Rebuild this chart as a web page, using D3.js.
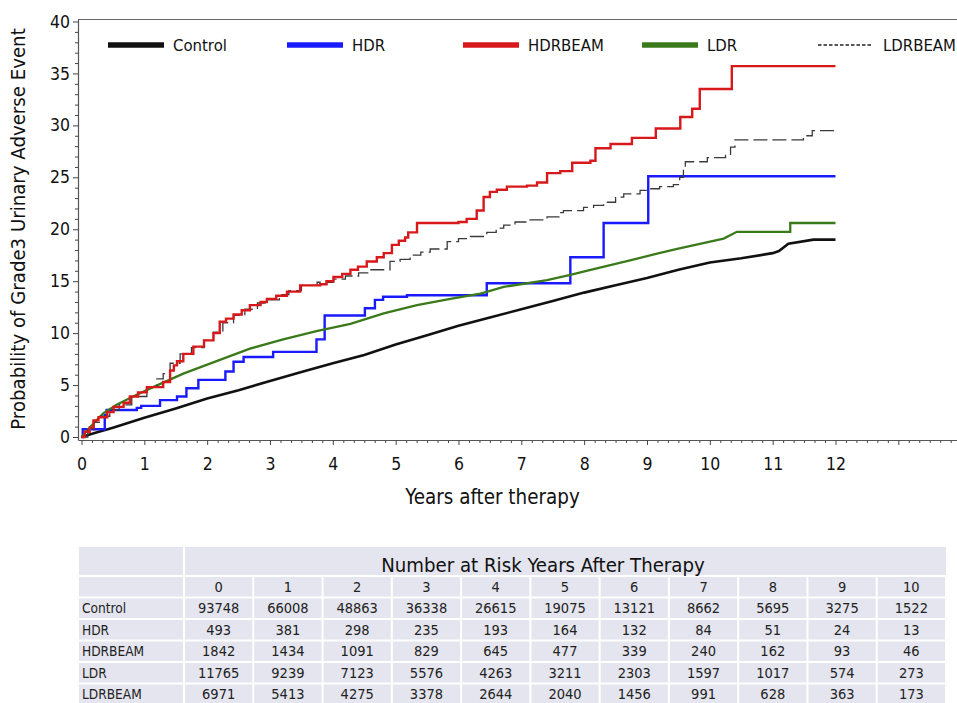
<!DOCTYPE html>
<html>
<head>
<meta charset="utf-8">
<script src="https://cdn.jsdelivr.net/npm/d3@7"></script>
<style>
  html, body { margin: 0; padding: 0; background: #fff; }
  svg { display: block; font-family: "DejaVu Sans Condensed", "DejaVu Sans", sans-serif; }
</style>
</head>
<body>
<svg id="chart" width="957" height="703"></svg>
<script>
// ---------------- DATA ----------------
const seriesNames = ["Control", "HDR", "HDRBEAM", "LDR", "LDRBEAM"];

const controlData = [[0,0],[0.25,0.45],[0.5,0.9],[1,1.85],[1.5,2.75],[2,3.7],[2.5,4.5],[3,5.4],[3.5,6.25],[4,7.1],[4.5,7.9],[5,8.9],[5.5,9.8],[6,10.7],[6.5,11.5],[7,12.3],[7.5,13.1],[8,13.9],[8.5,14.6],[9,15.3],[9.5,16.1],[10,16.8],[10.5,17.2],[11,17.7],[11.1,17.9],[11.25,18.6],[11.65,19.0],[12,19.0]];

const hdrData = [[0,0],[0.02,0.75],[0.37,2.1],[0.4,2.6],[0.88,2.8],[0.95,3.0],[1.25,3.55],[1.52,3.9],[1.67,4.7],[1.86,5.5],[2.29,6.3],[2.42,7.25],[2.58,7.7],[3.05,8.2],[3.74,9.4],[3.87,11.7],[4.51,12.4],[4.67,13.2],[4.8,13.5],[5.18,13.65],[6.45,14.8],[7.78,17.3],[8.31,20.6],[9.02,25.1],[12,25.1]];

const hdrbeamData = [[0,0],[0.05,0.5],[0.13,0.9],[0.19,1.6],[0.27,1.9],[0.41,2.4],[0.51,2.9],[0.67,3.3],[0.77,3.9],[0.9,4.3],[1.04,4.8],[1.3,5.3],[1.41,6.4],[1.47,6.9],[1.52,7.3],[1.62,8.0],[1.78,8.7],[1.95,9.3],[2.1,10.0],[2.2,11.1],[2.3,11.4],[2.42,11.8],[2.55,12.2],[2.68,12.7],[2.85,13.0],[2.95,13.3],[3.1,13.6],[3.27,14.0],[3.48,14.6],[3.8,14.7],[3.9,15.0],[4.01,15.4],[4.15,15.7],[4.28,16.1],[4.4,16.4],[4.54,16.9],[4.7,17.3],[4.81,17.7],[4.94,18.5],[5.05,18.9],[5.15,19.2],[5.2,19.7],[5.34,20.6],[6.0,20.7],[6.13,21.0],[6.29,21.8],[6.4,23.1],[6.5,23.6],[6.61,23.8],[6.77,24.1],[7.09,24.2],[7.25,24.5],[7.41,25.4],[7.62,25.6],[7.81,26.4],[8.1,26.6],[8.18,27.8],[8.42,28.2],[8.76,28.8],[9.14,29.7],[9.53,30.8],[9.72,31.6],[9.84,33.5],[10.35,35.7],[12,35.7]];

const ldrData = [[0,0],[0.1,0.7],[0.19,1.3],[0.35,2.3],[0.56,3.1],[0.82,3.9],[1.14,4.8],[1.62,6.1],[2.15,7.3],[2.68,8.5],[3.21,9.4],[3.74,10.2],[4.28,10.9],[4.81,11.9],[5.34,12.7],[5.87,13.3],[6.35,13.8],[6.72,14.45],[7.41,15.1],[7.78,15.6],[8.07,16.05],[8.73,17.0],[9.16,17.65],[9.48,18.1],[10.22,19.1],[10.43,19.75],[11.28,19.75],[11.28,20.6],[12,20.6]];

const ldrbeamData = [[0,0],[0.1,0.7],[0.2,1.4],[0.3,2.0],[0.45,2.6],[0.6,3.1],[0.8,3.9],[1.04,4.8],[1.2,5.6],[1.3,6.1],[1.41,7.1],[1.57,8.0],[1.75,8.6],[1.95,9.3],[2.1,10.1],[2.25,11.0],[2.42,11.7],[2.6,12.3],[2.8,12.9],[2.95,13.2],[3.15,13.7],[3.3,14.1],[3.5,14.6],[3.75,14.9],[4.01,15.2],[4.2,15.5],[4.41,15.8],[4.59,16.1],[4.91,16.9],[5.07,17.1],[5.23,17.5],[5.4,17.8],[5.55,18.1],[5.82,18.8],[6.0,19.1],[6.19,19.3],[6.45,19.7],[6.6,20.1],[6.72,20.4],[6.9,20.7],[7.09,20.9],[7.41,21.2],[7.6,21.6],[7.67,21.8],[7.99,22.1],[8.15,22.3],[8.31,22.6],[8.5,23.1],[8.63,23.4],[8.89,23.75],[9.0,23.9],[9.2,24.1],[9.42,24.3],[9.52,25.0],[9.58,25.7],[9.61,26.5],[9.96,26.9],[10.25,27.1],[10.33,27.9],[10.4,28.6],[11.39,28.6],[11.49,29.0],[11.63,29.5],[12,29.5]];

const xTickLabels = [0,1,2,3,4,5,6,7,8,9,10,11,12];
const yTickLabels = [0,5,10,15,20,25,30,35,40];

const yAxisTitle = "Probability of Grade3 Urinary Adverse Event";
const xAxisTitle = "Years after therapy";

const tableTitle = "Number at Risk Years After Therapy";
const riskYears = [0,1,2,3,4,5,6,7,8,9,10];
const riskControl = [93748,66008,48863,36338,26615,19075,13121,8662,5695,3275,1522];
const riskHDR = [493,381,298,235,193,164,132,84,51,24,13];
const riskHDRBEAM = [1842,1434,1091,829,645,477,339,240,162,93,46];
const riskLDR = [11765,9239,7123,5576,4263,3211,2303,1597,1017,574,273];
const riskLDRBEAM = [6971,5413,4275,3378,2644,2040,1456,991,628,363,173];

// ---------------- CHART ----------------
const svg = d3.select("#chart");

const x = d3.scaleLinear().domain([-0.0557, 13.934]).range([78, 957]);
const y = d3.scaleLinear().domain([-0.288, 40.24]).range([440, 19]);

const styles = {
  Control: { color: "#111111", width: 2.6, dash: null, curve: d3.curveLinear, data: controlData },
  HDR:     { color: "#1a1aff", width: 2.4, dash: null, curve: d3.curveStepAfter, data: hdrData },
  HDRBEAM: { color: "#d7191c", width: 2.4, dash: null, curve: d3.curveStepAfter, data: hdrbeamData },
  LDR:     { color: "#3b7a1a", width: 2.3, dash: null, curve: d3.curveLinear, data: ldrData },
  LDRBEAM: { color: "#3a3a3a", width: 1.3, dash: "14,5", curve: d3.curveStepAfter, data: ldrbeamData }
};

// frame top line
svg.append("line").attr("x1", 78).attr("x2", 957).attr("y1", 19.5).attr("y2", 19.5)
  .attr("stroke", "#666").attr("stroke-width", 1.2);

// x axis
const xMinor = d3.range(0, 84).map(i => i / 6).filter(v => Math.abs(v - Math.round(v)) > 1e-6 && v < 13.93);
svg.append("g").attr("transform", "translate(0,440)")
  .call(d3.axisBottom(x).tickValues(xMinor).tickSize(3).tickFormat("").tickSizeOuter(0))
  .call(g => g.select(".domain").remove())
  .call(g => g.selectAll(".tick line").attr("stroke", "#444"));
const xMajor = d3.range(0, 14);
svg.append("g").attr("transform", "translate(0,440)")
  .call(d3.axisBottom(x).tickValues(xMajor).tickSize(5).tickPadding(13)
    .tickFormat(d => xTickLabels.includes(d) ? d : "").tickSizeOuter(0))
  .call(g => g.select(".domain").attr("stroke", "#555").attr("stroke-width", 1.2))
  .call(g => g.selectAll(".tick line").attr("stroke", "#444"))
  .call(g => g.selectAll("text").attr("font-size", 17.5).attr("fill", "#111")
    .attr("font-family", "'DejaVu Sans Condensed', sans-serif"));

// y axis
const yMinor = d3.range(0, 41).filter(v => v % 5 !== 0);
svg.append("g").attr("transform", "translate(78,0)")
  .call(d3.axisLeft(y).tickValues(yMinor).tickSize(3).tickFormat("").tickSizeOuter(0))
  .call(g => g.select(".domain").remove())
  .call(g => g.selectAll(".tick line").attr("stroke", "#444"));
svg.append("g").attr("transform", "translate(78,0)")
  .call(d3.axisLeft(y).tickValues(yTickLabels).tickSize(5).tickPadding(3).tickSizeOuter(0))
  .call(g => g.select(".domain").attr("stroke", "#555").attr("stroke-width", 1.2))
  .call(g => g.selectAll(".tick line").attr("stroke", "#444"))
  .call(g => g.selectAll("text").attr("font-size", 17.5).attr("fill", "#111")
    .attr("font-family", "'DejaVu Sans Condensed', sans-serif"));

// axis titles
svg.append("text").attr("transform", "translate(18,229) rotate(-90)")
  .attr("text-anchor", "middle").attr("dy", "0.35em")
  .attr("font-size", 20.2).attr("fill", "#111").text(yAxisTitle);
svg.append("text").attr("x", 492.5).attr("y", 504)
  .attr("text-anchor", "middle")
  .attr("font-size", 20.4).attr("fill", "#111").text(xAxisTitle);

// curves
const drawOrder = ["Control", "HDR", "LDR", "LDRBEAM", "HDRBEAM"];
drawOrder.forEach(name => {
  const s = styles[name];
  const line = d3.line().x(d => x(d[0])).y(d => y(d[1])).curve(s.curve);
  svg.append("path").datum(s.data)
    .attr("d", line)
    .attr("fill", "none")
    .attr("stroke", s.color)
    .attr("stroke-width", s.width)
    .attr("stroke-dasharray", s.dash)
    .attr("stroke-linejoin", "miter");
});

// legend
const legendPos = { Control: 108, HDR: 287, HDRBEAM: 463, LDR: 642, LDRBEAM: 818 };
seriesNames.forEach(name => {
  const s = styles[name];
  const lx = legendPos[name];
  const g = svg.append("g");
  if (name === "LDRBEAM") {
    g.append("line").attr("x1", lx).attr("x2", lx + 55).attr("y1", 45).attr("y2", 45)
      .attr("stroke", "#222").attr("stroke-width", 1.4).attr("stroke-dasharray", "3.5,2");
  } else {
    g.append("line").attr("x1", lx).attr("x2", lx + 56).attr("y1", 45).attr("y2", 45)
      .attr("stroke", s.color).attr("stroke-width", 5.5);
  }
  g.append("text").attr("x", lx + 65).attr("y", 45).attr("dy", "0.36em")
    .attr("font-size", 16.6).attr("fill", "#111").text(name);
});

// ---------------- TABLE ----------------
const tbl = svg.append("g");
const tLeft = 79, labelW = 105, tRight = 946;
const colX = d3.scaleBand().domain(riskYears).range([tLeft + labelW, tRight]);
const cellFill = "#e4e5ee";
const rowTops = [547, 576, 597.5, 619, 640.5, 662, 683.5];
const rowH = [29, 21.5, 21.5, 21.5, 21.5, 21.5, 21.5];
const gap = 1;

// header row 1
tbl.append("rect").attr("x", tLeft).attr("y", rowTops[0]).attr("width", labelW - gap).attr("height", rowH[0] - gap).attr("fill", cellFill);
tbl.append("rect").attr("x", tLeft + labelW + gap).attr("y", rowTops[0]).attr("width", tRight - tLeft - labelW - gap).attr("height", rowH[0] - gap).attr("fill", cellFill);
tbl.append("text").attr("x", 543).attr("y", 572).attr("text-anchor", "middle")
  .attr("font-size", 20.2).attr("fill", "#111").text(tableTitle);

const rows = [
  { label: "", values: riskYears },
  { label: "Control", values: riskControl },
  { label: "HDR", values: riskHDR },
  { label: "HDRBEAM", values: riskHDRBEAM },
  { label: "LDR", values: riskLDR },
  { label: "LDRBEAM", values: riskLDRBEAM }
];
rows.forEach((r, i) => {
  const top = rowTops[i + 1] + gap, h = rowH[i + 1] - 2 * gap;
  const fillH = i === rows.length - 1 ? 703 - top : h;
  tbl.append("rect").attr("x", tLeft).attr("y", top).attr("width", labelW - gap).attr("height", fillH).attr("fill", cellFill);
  riskYears.forEach((yr, j) => {
    tbl.append("rect").attr("x", colX(yr) + gap).attr("y", top)
      .attr("width", colX.bandwidth() - 2 * gap).attr("height", fillH).attr("fill", cellFill);
    tbl.append("text").attr("x", colX(yr) + colX.bandwidth() / 2).attr("y", top + h / 2)
      .attr("dy", "0.36em").attr("text-anchor", "middle")
      .attr("font-size", 14.5).attr("fill", "#222").text(r.values[j]);
  });
  if (r.label) {
    tbl.append("text").attr("x", tLeft + 3).attr("y", top + h / 2).attr("dy", "0.36em")
      .attr("font-size", 13.6).attr("fill", "#222").text(r.label);
  }
});
</script>
</body>
</html>
